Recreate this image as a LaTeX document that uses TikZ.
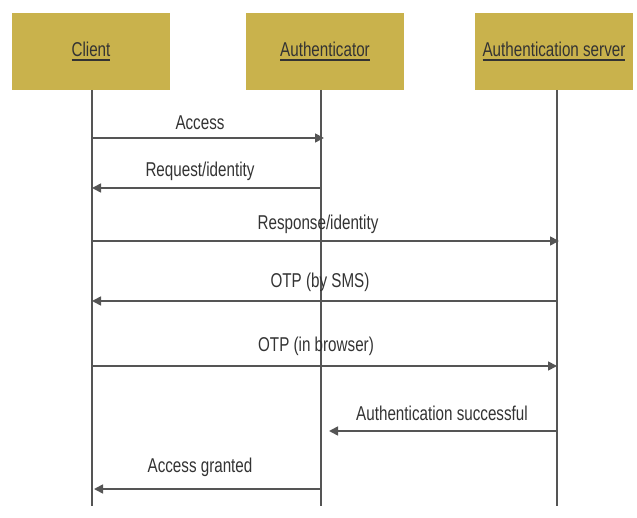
\documentclass[tikz,border=0pt]{standalone}
\usepackage{fontspec}
\setmainfont{Liberation Sans}[FakeStretch=0.76]
\usetikzlibrary{arrows.meta}
\definecolor{boxgold}{HTML}{C9B24C}
\definecolor{txt}{HTML}{333333}
\definecolor{ln}{HTML}{555555}
\tikzset{
  actor/.style={fill=boxgold, draw=none, minimum width=158pt, minimum height=77pt, inner sep=0pt, text=txt, font=\fontsize{20}{22}\selectfont},
  life/.style={draw=ln, line width=1.3pt},
  msg/.style={draw=ln, line width=1.7pt, -{Triangle[length=9pt,width=9pt]}},
  lbl/.style={text=txt, font=\fontsize{20}{22}\selectfont, inner sep=0pt}
}
\newcommand{\ulab}[1]{\setbox0\hbox{#1}\rlap{\rule[-5pt]{\wd0}{2pt}}\box0}
\begin{document}
\begin{tikzpicture}[x=1pt,y=-1pt]
\useasboundingbox (0,0) rectangle (637,518);
% actors
\node[actor] (client) at (91,51.5) {\ulab{Client}};
\node[actor] (auth) at (325,51.5) {\ulab{Authenticator}};
\node[actor] (server) at (554,51.5) {\ulab{Authentication server}};
% lifeline ends
\coordinate (ct) at (92,90); \coordinate (cb) at (92,506);
\coordinate (at) at (321,90); \coordinate (ab) at (321,506);
\coordinate (st) at (557,90); \coordinate (sb) at (557,506);
\draw[life] (ct) -- (cb);
\draw[life] (at) -- (ab);
\draw[life] (st) -- (sb);
% message points
\coordinate (c1) at (92,138); \coordinate (a1) at (324,138);
\coordinate (a2) at (321,188); \coordinate (c2) at (92,188);
\coordinate (c3) at (92,241); \coordinate (s3) at (559,241);
\coordinate (s4) at (557,301); \coordinate (c4) at (92,301);
\coordinate (c5) at (92,366); \coordinate (s5) at (557,366);
\coordinate (s6) at (557,431); \coordinate (a6) at (329,431);
\coordinate (a7) at (321,489); \coordinate (c7) at (94,489);
\draw[msg] (c1) -- (a1);
\draw[msg] (a2) -- (c2);
\draw[msg] (c3) -- (s3);
\draw[msg] (s4) -- (c4);
\draw[msg] (c5) -- (s5);
\draw[msg] (s6) -- (a6);
\draw[msg] (a7) -- (c7);
% labels
\node[lbl] (l1) at (200,123) {Access};
\node[lbl] (l2) at (200,171) {Request/identity};
\node[lbl] (l3) at (318,224) {Response/identity};
\node[lbl] (l4) at (320,282) {OTP (by SMS)};
\node[lbl] (l5) at (316,346) {OTP (in browser)};
\node[lbl] (l6) at (442,413) {Authentication successful};
\node[lbl] (l7) at (200,467) {Access granted};
\end{tikzpicture}
\end{document}
